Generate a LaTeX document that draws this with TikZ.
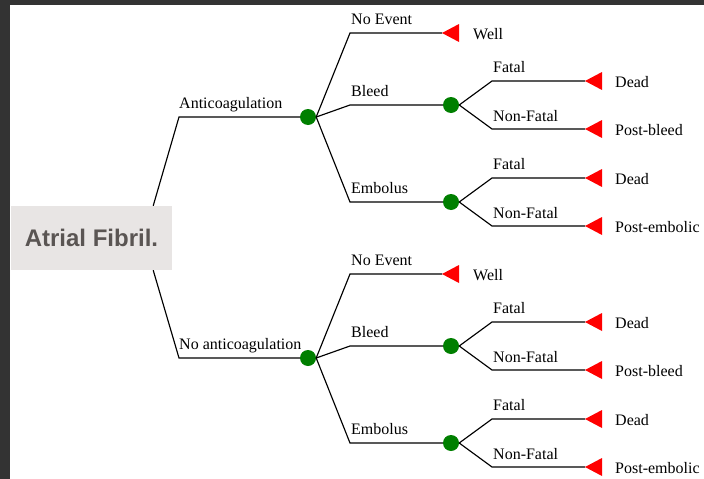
\documentclass[tikz,border=0pt]{standalone}
\usepackage{fontspec}
\setmainfont{Liberation Serif}
\newfontfamily\boxfont{Liberation Sans}
\usetikzlibrary{calc}
\definecolor{framegray}{HTML}{333333}
\definecolor{boxgray}{HTML}{E8E5E4}
\definecolor{boxtext}{HTML}{5A5553}
\definecolor{chancegreen}{HTML}{007F00}
\begin{document}
\begin{tikzpicture}[x=1pt,y=-1pt,
  branch/.style={line width=1.15pt, black},
  chance/.style={circle, fill=chancegreen, inner sep=0pt, minimum size=16pt},
  lbl/.style={anchor=base west, inner sep=0pt, font=\fontsize{16}{19}\selectfont},
  endtri/.style={fill=red}
]
% canvas and frame
\fill[white] (0,0) rectangle (704,479);
\fill[framegray] (0,0) rectangle (704,5);
\fill[framegray] (0,0) rectangle (10,479);
\useasboundingbox (0,0) rectangle (704,479);

% root
\node[fill=boxgray, minimum width=161pt, minimum height=64pt, inner sep=0pt,
      font=\boxfont\bfseries\fontsize{24}{28}\selectfont, text=boxtext]
      (af) at (91.5,238) {Atrial Fibril.};

\foreach \oy/\lab/\nm/\side in {0/Anticoagulation/a/north east, 241/No anticoagulation/b/south east}{
  % strategy branch
  \coordinate (\nm-elbow) at (179,117+\oy);
  \node[chance] (\nm-c) at (308,117+\oy) {};
  \draw[branch] ($(af.\side)+(-19,0)$) -- (\nm-elbow) -- (\nm-c.west);
  \node[lbl] (\nm-lab) at (179,108+\oy) {\lab};

  % no event
  \coordinate (\nm-ne-elbow) at (350,33+\oy);
  \coordinate (\nm-well) at (442,33+\oy);
  \draw[branch] (\nm-c.east) -- (\nm-ne-elbow) -- (\nm-well);
  \fill[endtri] (\nm-well) -- ++(17,-9) -- ++(0,18) -- cycle;
  \node[lbl] (\nm-ne-lab) at (351,24+\oy) {No Event};
  \node[lbl] (\nm-well-lab) at (473,39+\oy) {Well};

  % bleed and embolus
  \foreach \ev/\ey/\out in {Bleed/105/bleed, Embolus/202/embolic}{
    \pgfmathsetmacro{\yy}{\ey+\oy}
    \coordinate (\nm-\out-elbow) at (350,\yy);
    \node[chance] (\nm-\out-c) at (451,\yy) {};
    \draw[branch] (\nm-c.east) -- (\nm-\out-elbow) -- (\nm-\out-c.west);
    \node[lbl] (\nm-\out-lab) at (351,\yy-9) {\ev};

    % fatal
    \coordinate (\nm-\out-f-elbow) at (492,\yy-24);
    \coordinate (\nm-\out-dead) at (585,\yy-24);
    \draw[branch] (\nm-\out-c.east) -- (\nm-\out-f-elbow) -- (\nm-\out-dead);
    \fill[endtri] (\nm-\out-dead) -- ++(17,-9) -- ++(0,18) -- cycle;
    \node[lbl] (\nm-\out-f-lab) at (493,\yy-33) {Fatal};
    \node[lbl] (\nm-\out-dead-lab) at (615,\yy-18) {Dead};

    % non-fatal
    \coordinate (\nm-\out-nf-elbow) at (492,\yy+24);
    \coordinate (\nm-\out-post) at (585,\yy+24);
    \draw[branch] (\nm-\out-c.east) -- (\nm-\out-nf-elbow) -- (\nm-\out-post);
    \fill[endtri] (\nm-\out-post) -- ++(17,-9) -- ++(0,18) -- cycle;
    \node[lbl] (\nm-\out-nf-lab) at (493,\yy+16) {Non-Fatal};
    \node[lbl] (\nm-\out-post-lab) at (615,\yy+30) {Post-\out};
  }
}
\end{tikzpicture}
\end{document}
